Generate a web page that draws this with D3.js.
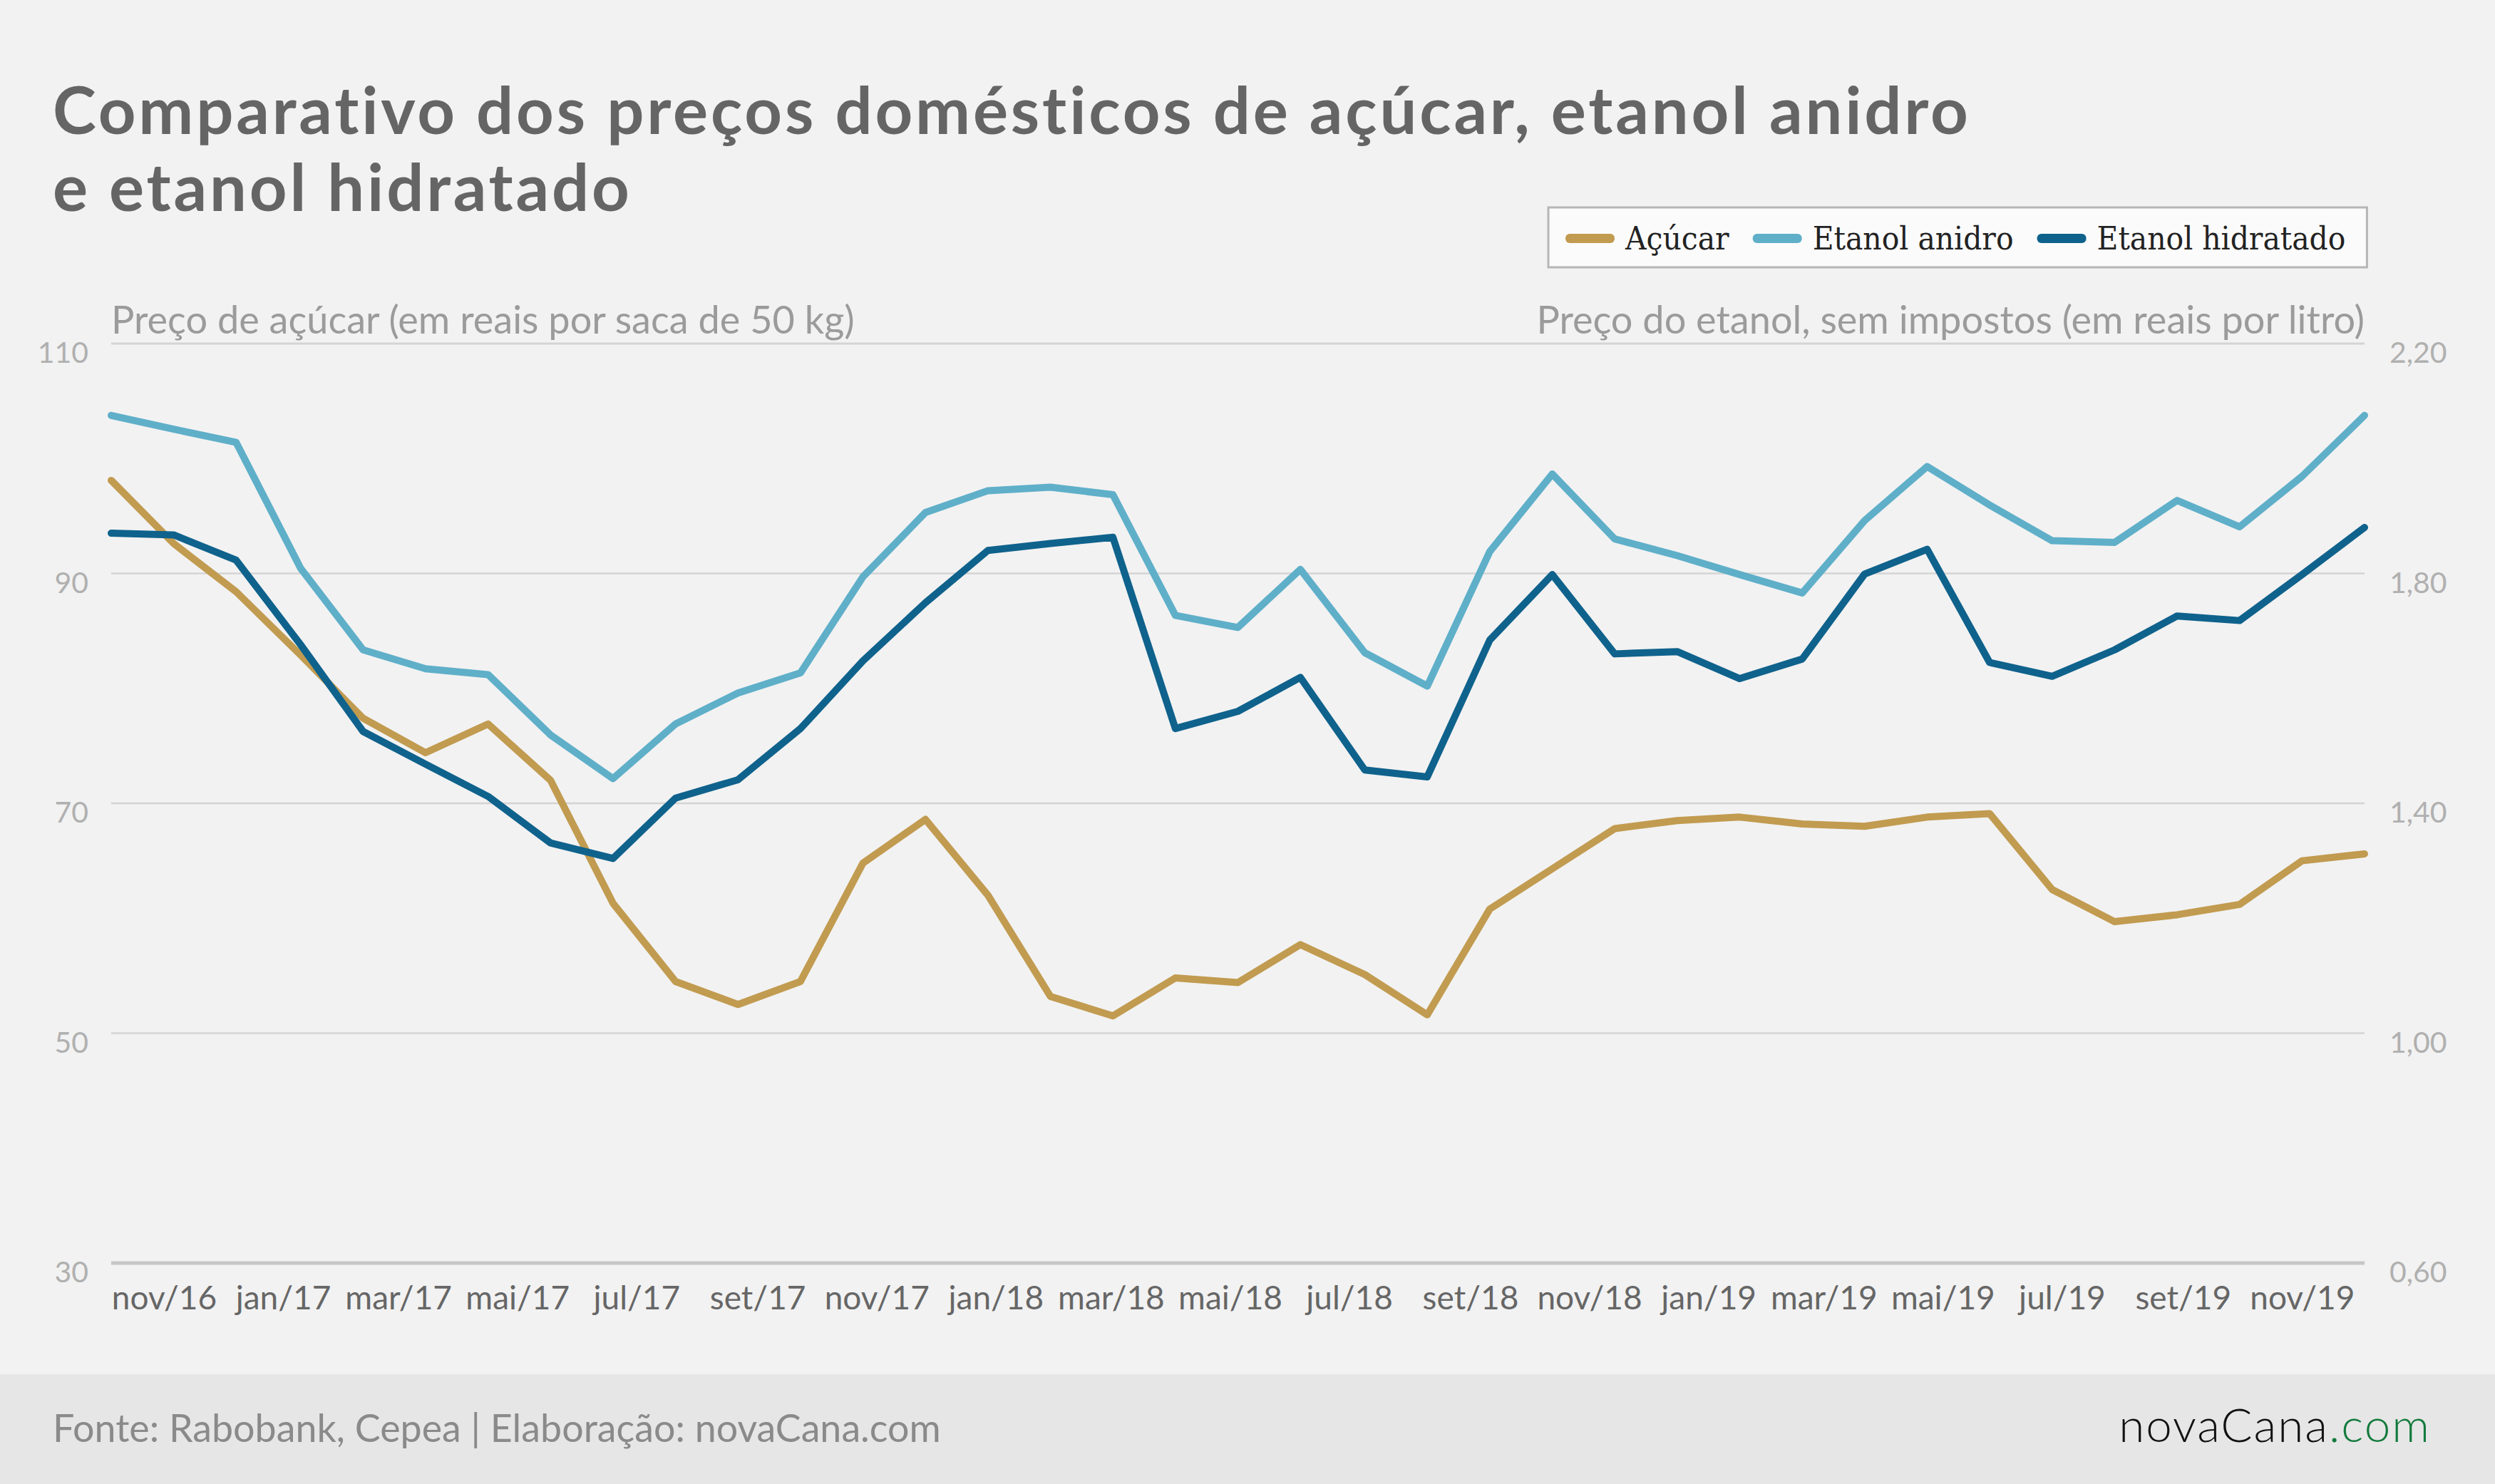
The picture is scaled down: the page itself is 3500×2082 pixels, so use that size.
<!DOCTYPE html>
<html>
<head>
<meta charset="utf-8">
<script src="https://cdn.jsdelivr.net/npm/d3@7"></script>
<style>
  body { margin: 0; background: #f2f2f2; }
  svg { display: block; }
  text { font-family: Lato, "Open Sans", sans-serif; }
</style>
</head>
<body>
<div id="chart"></div>
<script>
// Monthly observation dates (read from the x position of each vertex)
const dates = [
  "2016-10-05", "2016-11-06", "2016-12-08", "2017-01-10", "2017-02-11", "2017-03-15",
  "2017-04-16", "2017-05-18", "2017-06-19", "2017-07-21", "2017-08-22", "2017-09-23",
  "2017-10-25", "2017-11-26", "2017-12-28", "2018-01-29", "2018-03-02", "2018-04-03",
  "2018-05-05", "2018-06-06", "2018-07-09", "2018-08-10", "2018-09-11", "2018-10-13",
  "2018-11-14", "2018-12-16", "2019-01-17", "2019-02-18", "2019-03-22", "2019-04-23",
  "2019-05-25", "2019-06-26", "2019-07-28", "2019-08-29", "2019-09-30", "2019-11-01",
  "2019-12-03"
];

// Açúcar, R$ por saca de 50 kg (eixo esquerdo)
const acucar = [
  98.1, 92.6, 88.4, 82.9, 77.4, 74.4, 76.9, 72.0, 61.3, 54.5, 52.5, 54.5,
  64.8, 68.6, 62.0, 53.2, 51.5, 54.8, 54.4, 57.7, 55.1, 51.6, 60.8, 64.3,
  67.8, 68.5, 68.8, 68.2, 68.0, 68.8, 69.1, 62.5, 59.7, 60.3, 61.2, 65.0,
  65.6
];

// Etanol anidro, R$ por litro (eixo direito)
const etanolAnidro = [
  2.075, 2.051, 2.028, 1.809, 1.667, 1.634, 1.624, 1.519, 1.443, 1.538, 1.592, 1.627,
  1.794, 1.906, 1.944, 1.950, 1.937, 1.727, 1.706, 1.807, 1.662, 1.604, 1.838, 1.973,
  1.860, 1.831, 1.798, 1.766, 1.892, 1.986, 1.919, 1.857, 1.854, 1.927, 1.881, 1.969,
  2.075
];

// Etanol hidratado, R$ por litro (eixo direito)
const etanolHidratado = [
  1.870, 1.867, 1.823, 1.676, 1.525, 1.468, 1.412, 1.331, 1.304, 1.409, 1.441, 1.530,
  1.648, 1.749, 1.840, 1.852, 1.863, 1.530, 1.560, 1.619, 1.458, 1.446, 1.684, 1.798,
  1.660, 1.664, 1.617, 1.651, 1.799, 1.842, 1.645, 1.621, 1.667, 1.726, 1.718, 1.798,
  1.880
];

const seriesNames = ["Açúcar", "Etanol anidro", "Etanol hidratado"];
const seriesColors = ["#c19b50", "#5fafc9", "#0f628c"];

const leftTicks = [30, 50, 70, 90, 110];
const rightTicks = [0.6, 1.0, 1.4, 1.8, 2.2];

const tickDates = [
  "2016-11-01", "2017-01-01", "2017-03-01", "2017-05-01", "2017-07-01", "2017-09-01",
  "2017-11-01", "2018-01-01", "2018-03-01", "2018-05-01", "2018-07-01", "2018-09-01",
  "2018-11-01", "2019-01-01", "2019-03-01", "2019-05-01", "2019-07-01", "2019-09-01",
  "2019-11-01"
];
const tickLabels = [
  "nov/16", "jan/17", "mar/17", "mai/17", "jul/17", "set/17", "nov/17", "jan/18",
  "mar/18", "mai/18", "jul/18", "set/18", "nov/18", "jan/19", "mar/19", "mai/19",
  "jul/19", "set/19", "nov/19"
];

// Canvas
const W = 3500, H = 2082;
const plot = { left: 156, right: 3317, top: 482, bottom: 1772 };

const svg = d3.select("#chart").append("svg")
  .attr("width", W)
  .attr("height", H);

svg.append("rect").attr("width", W).attr("height", H).attr("fill", "#f2f2f2");
svg.append("rect").attr("y", 1928).attr("width", W).attr("height", H - 1928).attr("fill", "#e6e6e6");

// Helper: scale a text's font size so it spans a given width
const fitWidth = (sel, width) => {
  const len = sel.node().getComputedTextLength();
  const fs = parseFloat(sel.attr("font-size"));
  sel.attr("font-size", fs * width / len);
  return fs * width / len;
};

// Helper: keep the font size, spread letters to reach a given width
const spreadWidth = (sel, width) => {
  const len = sel.node().getComputedTextLength();
  const n = sel.text().length;
  const ls = (width - len) / n;
  sel.attr("letter-spacing", ls);
  return ls;
};

// Title
const t1 = svg.append("text")
  .attr("x", 74).attr("y", 188)
  .attr("font-size", 92).attr("font-weight", 700).attr("fill", "#656565")
  .text("Comparativo dos preços domésticos de açúcar, etanol anidro");
const titleSpacing = spreadWidth(t1, 2694);
svg.append("text")
  .attr("x", 74).attr("y", 296)
  .attr("font-size", 92).attr("font-weight", 700).attr("fill", "#656565")
  .attr("letter-spacing", titleSpacing)
  .text("e etanol hidratado");

// Scales
const parse = d3.utcParse("%Y-%m-%d");
const x = d3.scaleUtc()
  .domain([parse(dates[0]), parse(dates[dates.length - 1])])
  .range([plot.left, plot.right]);
const yLeft = d3.scaleLinear().domain([30, 110]).range([plot.bottom, plot.top]);
const yRight = d3.scaleLinear().domain([0.6, 2.2]).range([plot.bottom, plot.top]);

// Gridlines
svg.append("g")
  .selectAll("line")
  .data(leftTicks)
  .enter()
  .append("line")
  .attr("x1", plot.left).attr("x2", plot.right)
  .attr("y1", d => yLeft(d)).attr("y2", d => yLeft(d))
  .attr("stroke", d => d === 30 ? "#c6c6c6" : "#d4d4d4")
  .attr("stroke-width", d => d === 30 ? 5 : (d === 110 ? 3 : 2.5));

// Left axis labels
const leftAxis = svg.append("g")
  .attr("transform", "translate(124,0)")
  .call(d3.axisLeft(yLeft).tickValues(leftTicks).tickSize(0).tickPadding(0));
leftAxis.select(".domain").remove();
leftAxis.selectAll("text")
  .attr("font-size", 41).attr("fill", "#b0b0b0")
  .attr("dy", "0.95em").attr("y", -12);

// Right axis labels
const rightAxis = svg.append("g")
  .attr("transform", "translate(3352,0)")
  .call(d3.axisRight(yRight).tickValues(rightTicks).tickSize(0).tickPadding(0)
    .tickFormat(d => d.toFixed(2).replace(".", ",")));
rightAxis.select(".domain").remove();
rightAxis.selectAll("text")
  .attr("font-size", 41).attr("fill", "#b0b0b0")
  .attr("dy", "0.95em").attr("y", -12);

// X axis labels
const xAxis = svg.append("g")
  .attr("transform", `translate(0, ${plot.bottom})`)
  .call(d3.axisBottom(x)
    .tickValues(tickDates.map(parse))
    .tickFormat((d, i) => tickLabels[i])
    .tickSize(0).tickPadding(0));
xAxis.select(".domain").remove();
xAxis.selectAll("text")
  .attr("font-size", 46).attr("fill", "#666")
  .attr("dy", 0).attr("y", 65);

// Axis unit captions
const capL = svg.append("text")
  .attr("x", plot.left).attr("y", 468)
  .attr("font-size", 48).attr("fill", "#9b9b9b")
  .text("Preço de açúcar (em reais por saca de 50 kg)");
const capSize = fitWidth(capL, 1043);
svg.append("text")
  .attr("x", plot.right).attr("y", 468)
  .attr("text-anchor", "end")
  .attr("font-size", capSize).attr("fill", "#9b9b9b")
  .text("Preço do etanol, sem impostos (em reais por litro)");

// Lines
const lineLeft = d3.line()
  .x((d, i) => x(parse(dates[i])))
  .y(d => yLeft(d));
const lineRight = d3.line()
  .x((d, i) => x(parse(dates[i])))
  .y(d => yRight(d));

const seriesData = [
  { values: acucar, gen: lineLeft },
  { values: etanolAnidro, gen: lineRight },
  { values: etanolHidratado, gen: lineRight }
];

svg.append("g")
  .selectAll("path")
  .data(seriesData)
  .enter()
  .append("path")
  .attr("d", d => d.gen(d.values))
  .attr("fill", "none")
  .attr("stroke", (d, i) => seriesColors[i])
  .attr("stroke-width", 10)
  .attr("stroke-linejoin", "round")
  .attr("stroke-linecap", "round");

// Legend (condensed slab-like serif, set via style so the CSS rule does not win)
const legendFamily = "'DejaVu Serif Condensed', 'DejaVu Serif', serif";
const legend = svg.append("g");
const legendBox = legend.append("rect")
  .attr("x", 2172).attr("y", 291)
  .attr("width", 1154).attr("height", 84)
  .attr("fill", "#fbfbfb")
  .attr("stroke", "#b6b6b6").attr("stroke-width", 3);

// size the legend font from the longest label
const probe = legend.append("text")
  .style("font-family", legendFamily)
  .style("font-stretch", "condensed")
  .attr("font-size", 40)
  .text(seriesNames[2]);
const legendFont = fitWidth(probe, 349);
probe.remove();

let lx = 2196;
seriesNames.forEach((name, i) => {
  legend.append("rect")
    .attr("x", lx).attr("y", 328)
    .attr("width", 69).attr("height", 13).attr("rx", 6)
    .attr("fill", seriesColors[i]);
  const txt = legend.append("text")
    .attr("x", lx + 84).attr("y", 350)
    .style("font-family", legendFamily)
    .style("font-stretch", "condensed")
    .attr("font-size", legendFont).attr("fill", "#222")
    .text(name);
  lx = lx + 84 + txt.node().getComputedTextLength() + 33;
});
legendBox.attr("width", lx - 33 + 30 - 2172);

// Footer
const foot = svg.append("text")
  .attr("x", 74).attr("y", 2023)
  .attr("font-size", 46).attr("fill", "#8a8a8a")
  .text("Fonte: Rabobank, Cepea | Elaboração: novaCana.com");
fitWidth(foot, 1246);

const logo = svg.append("text")
  .attr("x", 3410).attr("y", 2023)
  .attr("text-anchor", "end")
  .attr("font-size", 60).attr("font-weight", 300)
  .attr("letter-spacing", 2);
logo.append("tspan").attr("fill", "#111").text("novaCana");
logo.append("tspan").attr("fill", "#137a3c").text(".com");
fitWidth(logo, 440);
</script>
</body>
</html>
